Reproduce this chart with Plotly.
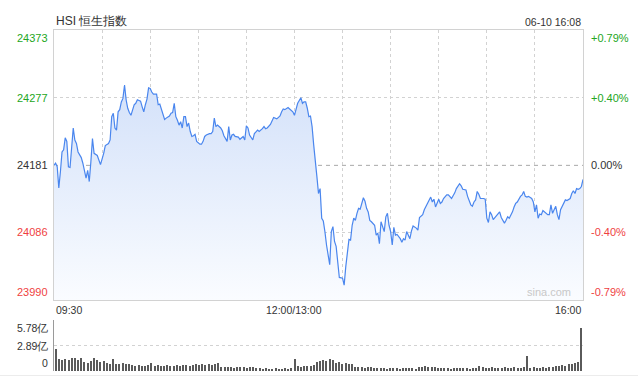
import plotly.graph_objects as go

# ---------------- data ----------------
# minutes of trading time elapsed since 09:30 (lunch break removed; 150 = 12:00/13:00, 330 = 16:00)
minutes = [0, 1, 2, 3, 4, 5, 6, 7, 8, 9, 10, 11, 12, 13, 14, 15, 17, 18, 19, 20,
           21, 22, 23, 24, 25, 26, 27, 29, 30, 31, 32, 34, 35, 36, 37, 38, 39, 40, 41, 42,
           43, 44, 45, 46, 47, 48, 50, 51, 52, 54, 55, 56, 57, 58, 59, 60, 61, 62, 64, 65,
           66, 67, 68, 69, 70, 72, 73, 74, 75, 76, 77, 78, 79, 80, 81, 82, 83, 84, 85, 86,
           87, 88, 89, 91, 92, 93, 94, 95, 97, 98, 99, 100, 101, 102, 104, 105, 106, 107, 108, 109,
           110, 111, 112, 113, 115, 116, 118, 119, 120, 121, 122, 124, 125, 127, 128, 130, 131, 132, 133, 135,
           136, 137, 139, 141, 142, 143, 144, 146, 147, 149, 150, 151, 152, 154, 155, 156, 157, 158, 159, 160,
           161, 162, 163, 164, 165, 166, 167, 168, 169, 170, 172, 173, 174, 175, 176, 177, 178, 180, 181, 182,
           183, 184, 185, 186, 187, 188, 189, 190, 191, 193, 194, 195, 196, 197, 198, 200, 201, 202, 203, 204,
           205, 206, 207, 208, 209, 210, 211, 212, 213, 214, 216, 217, 218, 219, 220, 222, 223, 224, 226, 227,
           228, 230, 231, 233, 234, 235, 236, 237, 238, 240, 241, 242, 243, 245, 246, 247, 248, 250, 251, 253,
           254, 255, 257, 258, 260, 261, 262, 263, 264, 265, 266, 268, 269, 270, 271, 272, 273, 274, 276, 277,
           278, 279, 280, 281, 282, 283, 284, 286, 287, 288, 289, 290, 291, 292, 293, 294, 295, 296, 298, 299,
           300, 301, 302, 303, 304, 305, 306, 308, 309, 310, 311, 312, 313, 314, 315, 316, 317, 318, 319, 320,
           322, 323, 324, 325, 326, 327, 328, 329, 330]
prices = [24181, 24184, 24179, 24149, 24172, 24200, 24203, 24220, 24215, 24179, 24178, 24207, 24234, 24217, 24212, 24200, 24192, 24184, 24172, 24163,
          24174, 24158, 24186, 24219, 24198, 24197, 24195, 24182, 24189, 24198, 24209, 24212, 24217, 24250, 24255, 24234, 24231, 24257, 24260, 24271,
          24276, 24295, 24274, 24262, 24256, 24252, 24267, 24269, 24274, 24272, 24264, 24257, 24267, 24275, 24291, 24290, 24285, 24282, 24282, 24267,
          24268, 24260, 24252, 24246, 24248, 24251, 24255, 24256, 24269, 24250, 24245, 24238, 24243, 24234, 24250, 24250, 24236, 24241, 24229, 24222,
          24223, 24225, 24215, 24211, 24211, 24215, 24222, 24224, 24226, 24226, 24229, 24248, 24236, 24238, 24234, 24230, 24223, 24219, 24215, 24236,
          24217, 24224, 24225, 24222, 24221, 24218, 24222, 24217, 24237, 24234, 24224, 24217, 24226, 24231, 24229, 24233, 24236, 24233, 24234, 24239,
          24244, 24249, 24247, 24251, 24257, 24261, 24260, 24263, 24261, 24257, 24252, 24260, 24269, 24277, 24269, 24271, 24271, 24262, 24250, 24251,
          24236, 24210, 24181, 24165, 24141, 24148, 24106, 24102, 24087, 24068, 24040, 24087, 24094, 24073, 24066, 24044, 24022, 24021, 24011, 24037,
          24058, 24076, 24075, 24096, 24106, 24103, 24113, 24120, 24119, 24135, 24130, 24120, 24115, 24103, 24101, 24096, 24082, 24085, 24070, 24101,
          24094, 24087, 24108, 24113, 24096, 24087, 24068, 24093, 24082, 24083, 24077, 24072, 24077, 24075, 24087, 24077, 24088, 24095, 24092, 24089,
          24107, 24111, 24118, 24127, 24130, 24136, 24129, 24133, 24122, 24133, 24127, 24129, 24134, 24139, 24139, 24137, 24134, 24142, 24148, 24155,
          24152, 24147, 24146, 24137, 24125, 24123, 24129, 24132, 24144, 24140, 24134, 24134, 24133, 24106, 24100, 24115, 24111, 24104, 24109, 24111,
          24115, 24107, 24103, 24099, 24103, 24108, 24106, 24115, 24122, 24127, 24129, 24134, 24137, 24139, 24144, 24137, 24136, 24137, 24134, 24129,
          24115, 24125, 24106, 24112, 24111, 24117, 24115, 24111, 24111, 24125, 24113, 24117, 24123, 24111, 24104, 24118, 24122, 24127, 24132, 24131,
          24134, 24141, 24145, 24141, 24148, 24147, 24148, 24151, 24161]

# volume (亿), one bar per two minutes of trading time
vol_minutes = list(range(0, 331, 2))
volumes = [2.55,
           1.35, 1.25, 1.4, 1.3, 1.45, 1.5, 1.2, 1.45,
           1.0, 0.95, 1.1,
           1.5,
           1.2, 1.05, 1.15,
           0.9, 0.85,
           1.35,
           0.85, 0.8, 0.9, 0.75, 0.8,
           0.65, 0.6, 0.7, 0.55, 0.6, 0.65,
           0.95,
           0.6, 0.65, 0.55, 0.6, 0.7, 0.6, 0.55, 0.65, 0.6, 0.7, 0.65, 0.6,
           0.7, 0.75, 0.65, 0.8, 0.7, 0.75, 0.7, 0.8,
           0.9,
           0.45, 0.4, 0.45, 0.4, 0.35, 0.45, 0.4, 0.4, 0.35, 0.45, 0.4, 0.35,
           0.3, 0.25, 0.3, 0.2, 0.25, 0.3, 0.25, 0.2, 0.3, 0.25, 0.3,
           1.4,
           0.55, 0.5, 0.6, 0.55, 0.6, 0.65,
           1.0, 1.15, 1.3, 1.1, 1.4,
           1.2, 0.9, 1.0, 0.85, 0.9, 0.8, 0.85,
           0.45, 0.4, 0.5, 0.35, 0.45, 0.4, 0.35,
           0.3, 0.35, 0.3, 0.25, 0.3, 0.35, 0.3, 0.25, 0.3, 0.3, 0.35, 0.3, 0.25,
           0.5, 0.45, 0.55, 0.5, 0.45, 0.5,
           0.3, 0.35, 0.3, 0.3, 0.25, 0.35, 0.3, 0.3, 0.35, 0.3, 0.25, 0.3, 0.35,
           0.6, 0.5,
           0.35, 0.3, 0.4, 0.35, 0.3, 0.35, 0.4, 0.3, 0.35, 0.4, 0.35, 0.3, 0.4,
           1.7,
           0.35, 0.4, 0.3, 0.35, 0.4, 0.35, 0.45,
           0.5, 0.6, 0.55, 0.7, 0.6, 0.8, 0.75, 0.9, 1.0,
           4.9]

prev_close = 24181
price_ticks = [24373, 24277, 24181, 24086, 23990]
pct_ticks = ["+0.79%", "+0.40%", "0.00%", "-0.40%", "-0.79%"]
vol_ticks = [5.78, 2.89, 0]
vol_tick_text = ["5.78亿", "2.89亿", "0"]
x_tick_vals = [0, 150, 330]
x_tick_text = ["09:30", "12:00/13:00", "16:00"]
title_text = "HSI 恒生指数"
stamp_text = "06-10 16:08"

# ---------------- styling ----------------
W, H = 638, 377
FONT = "Liberation Sans, Arial, Helvetica, sans-serif"
GREEN = "#23a623"
RED = "#ef3f3f"
NEUTRAL = "#333333"
LINE = "#4a86ee"
GRID = "#d2d2d2"
BORDER = "#d2d2d2"

x_dom = [54 / W, 583 / W]
main_dom = [(H - 300) / H, (H - 30) / H]
vol_dom = [(H - 371) / H, (H - 320) / H]

fig = go.Figure()

fig.add_trace(go.Scatter(
    x=minutes, y=prices, mode="lines",
    line=dict(color=LINE, width=1.2),
    fill="tozeroy",
    fillgradient=dict(type="vertical", start=price_ticks[-1], stop=price_ticks[1],
                      colorscale=[[0, "rgba(250,252,255,1)"], [1, "rgba(214,227,250,1)"]]),
    xaxis="x", yaxis="y", hoverinfo="skip", showlegend=False))

fig.add_trace(go.Bar(
    x=vol_minutes, y=volumes, width=0.8,
    marker=dict(color="#5a5a5a", line=dict(width=0)),
    xaxis="x2", yaxis="y2", hoverinfo="skip", showlegend=False))

fig.update_layout(
    width=W, height=H,
    margin=dict(l=0, r=0, t=0, b=0),
    paper_bgcolor="white", plot_bgcolor="white",
    font=dict(family=FONT, size=11, color=NEUTRAL),
    bargap=0,
    xaxis=dict(domain=x_dom, range=[0, 330], tick0=0, dtick=30,
               showgrid=True, gridcolor=GRID, griddash="dot", gridwidth=1,
               showline=True, mirror=True, linecolor=BORDER, linewidth=1,
               showticklabels=False, ticks="", zeroline=False, fixedrange=True),
    yaxis=dict(domain=main_dom, range=[price_ticks[-1], price_ticks[0]],
               tickvals=[price_ticks[1], price_ticks[3]],
               showgrid=True, gridcolor=GRID, griddash="dot", gridwidth=1,
               showline=True, mirror=True, linecolor=BORDER, linewidth=1,
               showticklabels=False, ticks="", zeroline=False, fixedrange=True),
    xaxis2=dict(domain=x_dom, range=[-1.2, 331], anchor="y2",
                showgrid=False, showline=False, showticklabels=False, ticks="",
                zeroline=False, fixedrange=True),
    yaxis2=dict(domain=vol_dom, range=[0, vol_ticks[0]], anchor="x2",
                tickvals=[vol_ticks[1], vol_ticks[0]],
                showgrid=True, gridcolor=GRID, griddash="dot", gridwidth=1,
                showline=True, linecolor="#9a9a9a", linewidth=1,
                showticklabels=False, ticks="", zeroline=False, fixedrange=True),
)

# previous close reference line
fig.add_shape(type="line", xref="x domain", yref="y", x0=0, x1=1,
              y0=prev_close, y1=prev_close,
              line=dict(color="#a8a8a8", width=1, dash="4px,4px"), layer="below")
# faint bottom border of the page
fig.add_shape(type="line", xref="paper", yref="paper", x0=0, x1=1,
              y0=1.5 / H, y1=1.5 / H, line=dict(color="#ececec", width=1))

ann = []
anchors = ["top", "middle", "middle", "middle", "bottom"]
for i, (v, p) in enumerate(zip(price_ticks, pct_ticks)):
    col = GREEN if v > prev_close else (RED if v < prev_close else NEUTRAL)
    ann.append(dict(x=x_dom[0], xref="paper", y=v, yref="y", text=str(v),
                    xanchor="right", yanchor=anchors[i], xshift=-4, showarrow=False,
                    font=dict(size=11, color=col, family=FONT)))
    ann.append(dict(x=x_dom[1], xref="paper", y=v, yref="y", text=p,
                    xanchor="left", yanchor=anchors[i], xshift=6, showarrow=False,
                    font=dict(size=11, color=col, family=FONT)))

vanchors = ["top", "middle", "bottom"]
for i, (v, t) in enumerate(zip(vol_ticks, vol_tick_text)):
    ann.append(dict(x=x_dom[0], xref="paper", y=v, yref="y2", text=t,
                    xanchor="right", yanchor=vanchors[i], xshift=-4, showarrow=False,
                    font=dict(size=10.5, color=NEUTRAL, family=FONT)))

xanchors = ["left", "center", "right"]
for v, t, a in zip(x_tick_vals, x_tick_text, xanchors):
    ann.append(dict(x=v, xref="x", y=main_dom[0], yref="paper", text=t,
                    xanchor=a, yanchor="top", yshift=-2, showarrow=False,
                    font=dict(size=10.5, color=NEUTRAL, family=FONT)))

ann.append(dict(x=x_dom[0], xref="paper", y=main_dom[1], yref="paper", text=title_text,
                xanchor="left", yanchor="bottom", yshift=0, showarrow=False,
                font=dict(size=12, color=NEUTRAL, family=FONT)))
ann.append(dict(x=x_dom[1], xref="paper", y=main_dom[1], yref="paper", text=stamp_text,
                xanchor="right", yanchor="bottom", yshift=0, showarrow=False,
                font=dict(size=10.5, color=NEUTRAL, family=FONT)))
ann.append(dict(x=x_dom[1], xref="paper", y=main_dom[0], yref="paper", text="sina.com",
                xanchor="right", yanchor="bottom", xshift=-10, yshift=0, showarrow=False,
                font=dict(size=11, color="#c8c8c8", family=FONT)))

fig.update_layout(annotations=ann)

fig.write_html("out.html", config={"displayModeBar": False})
